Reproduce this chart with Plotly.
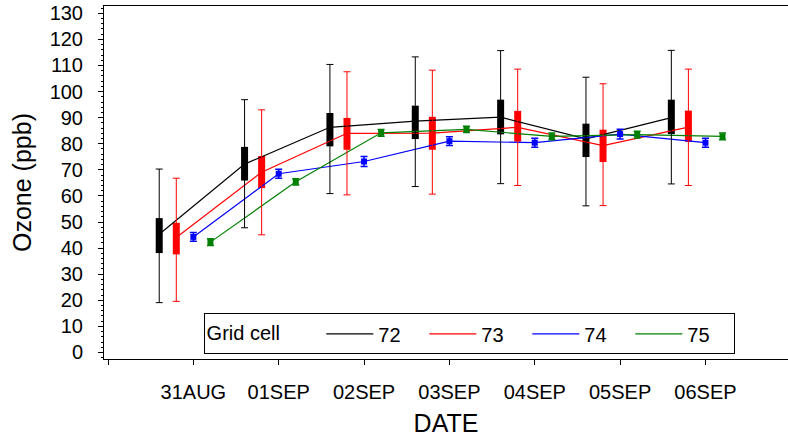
import plotly.graph_objects as go

# ---- data ----
tick_vals = [0, 1, 2, 3, 4, 5, 6, 7]
tick_text = ["", "31AUG", "01SEP", "02SEP", "03SEP", "04SEP", "05SEP", "06SEP"]
day_idx = [1, 2, 3, 4, 5, 6, 7]

c72_mean = [45.3, 72.2, 86.3, 88.7, 90.2, 81.9, 90.0]
c72_box_lo = [38.1, 65.9, 79.0, 81.8, 83.6, 74.9, 83.7]
c72_box_hi = [51.5, 78.8, 91.8, 94.6, 96.9, 87.7, 96.9]
c72_min = [19.1, 47.8, 60.9, 63.6, 64.7, 56.2, 64.6]
c72_max = [70.3, 96.9, 110.4, 113.3, 115.7, 105.5, 115.8]

c73_mean = [44.1, 69.1, 84.0, 84.1, 86.3, 79.3, 86.4]
c73_box_lo = [37.6, 63.0, 77.7, 77.7, 80.8, 73.0, 80.7]
c73_box_hi = [49.7, 75.3, 89.9, 90.3, 92.6, 85.4, 92.7]
c73_min = [19.6, 45.1, 60.4, 60.7, 64.0, 56.3, 64.0]
c73_max = [66.8, 93.0, 107.6, 108.2, 108.6, 103.0, 108.6]

c74_mean = [44.3, 68.5, 73.2, 81.0, 80.4, 83.7, 80.4]
c74_err = [1.7, 1.7, 1.9, 1.7, 1.7, 1.9, 1.7]

c75_mean = [42.3, 65.4, 84.2, 85.5, 82.8, 83.5, 82.8]
c75_err = [1.3, 1.2, 1.3, 1.2, 1.3, 1.3, 1.3]

# ---- style ----
FONT = "Liberation Sans, Arial, sans-serif"
offsets = {"72": -0.4, "73": -0.2, "74": 0.0, "75": 0.2}
colors = {"72": "black", "73": "red", "74": "blue", "75": "green"}
box_w = 0.082

fig = go.Figure()

def xs(key):
    return [d + offsets[key] for d in day_idx]

# legend / mean lines
for key, mean in (("72", c72_mean), ("73", c73_mean), ("74", c74_mean), ("75", c75_mean)):
    fig.add_trace(go.Scatter(x=xs(key), y=mean, mode="lines", name=key,
                             line=dict(color=colors[key], width=1.2), showlegend=True))

# boxes + whiskers for 72, 73
for key, mean, lo, hi, mn, mx in (("72", c72_mean, c72_box_lo, c72_box_hi, c72_min, c72_max),
                                  ("73", c73_mean, c73_box_lo, c73_box_hi, c73_min, c73_max)):
    fig.add_trace(go.Bar(x=xs(key), base=lo, y=[h - l for h, l in zip(hi, lo)],
                         width=box_w, marker=dict(color=colors[key], line=dict(width=0)),
                         showlegend=False, hoverinfo="skip"))
    fig.add_trace(go.Scatter(x=xs(key), y=mean, mode="markers",
                             marker=dict(size=1, color=colors[key]),
                             error_y=dict(type="data", symmetric=False,
                                          array=[a - m for a, m in zip(mx, mean)],
                                          arrayminus=[m - b for m, b in zip(mean, mn)],
                                          color=colors[key], thickness=1, width=3.5),
                             showlegend=False, hoverinfo="skip"))

# markers with error bars for 74, 75
for key, mean, err in (("74", c74_mean, c74_err), ("75", c75_mean, c75_err)):
    fig.add_trace(go.Scatter(x=xs(key), y=mean, mode="markers",
                             marker=dict(symbol="square", size=6, color=colors[key]),
                             error_y=dict(type="data", array=err, color=colors[key],
                                          thickness=1.5, width=3.5),
                             showlegend=False, hoverinfo="skip"))

NB = "\u00a0"
fig.update_layout(
    width=788, height=439,
    margin=dict(l=104, r=0, t=6, b=80, autoexpand=False),
    paper_bgcolor="white", plot_bgcolor="white",
    barmode="overlay",
    font=dict(family=FONT, color="black", size=20),
    showlegend=True,
    legend=dict(orientation="h", x=0.1456, y=0.013, xanchor="left", yanchor="bottom",
                bordercolor="black", borderwidth=1, bgcolor="white",
                font=dict(size=20, family=FONT),
                title=dict(text="Grid cell" + NB * 6, side="left", font=dict(size=20, family=FONT)),
                entrywidth=41, itemwidth=47, tracegroupgap=0),
)

fig.update_xaxes(
    range=[-0.047, 7.967], tickmode="array", tickvals=tick_vals, ticktext=tick_text,
    ticks="outside", ticklen=5, tickcolor="black", tickwidth=1,
    showline=True, linecolor="black", linewidth=1, mirror=True,
    showgrid=False, zeroline=False, automargin=False,
    tickfont=dict(size=20, family=FONT), ticklabelstandoff=10,
    title=dict(text="DATE", font=dict(size=25, family=FONT), standoff=12),
)
fig.update_yaxes(
    range=[-2.5, 132.8], tickmode="linear", tick0=0, dtick=10,
    ticks="outside", ticklen=5, tickcolor="black", tickwidth=1,
    minor=dict(ticks="outside", ticklen=2, dtick=2, tickcolor="black", tickwidth=1),
    showline=True, linecolor="black", linewidth=1, mirror=False,
    showgrid=False, zeroline=False, automargin=False,
    tickfont=dict(size=20, family=FONT), ticklabelstandoff=11,
    title=dict(text="Ozone (ppb)", font=dict(size=25, family=FONT), standoff=10),
)

fig.write_html("out.html", config={"displayModeBar": False},
               post_script="document.body.style.margin='0';")
